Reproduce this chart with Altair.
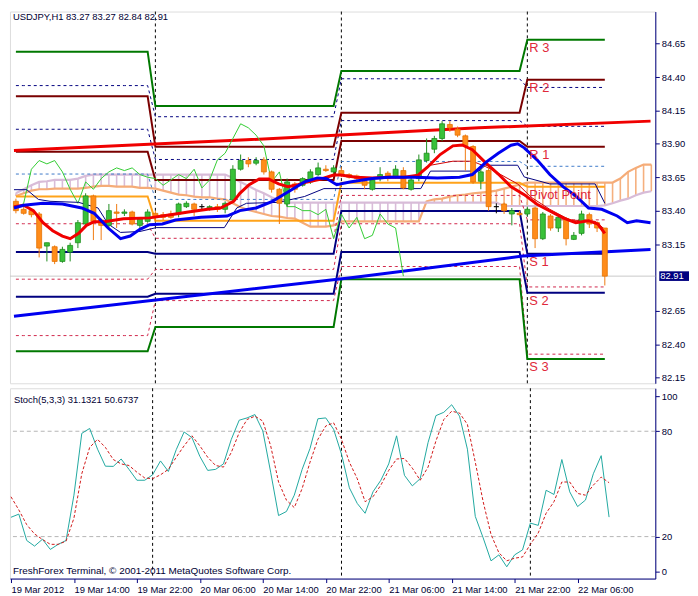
import json
import altair as alt
import pandas as pd

alt.data_transformers.disable_max_rows()

FONT = "Liberation Sans"
NAVY = "#000080"
TXT = "#000033"

# ---------------- candles (hourly bars, index 0 = 19 Mar 06:00) ----------------
OPEN = [83.47, 83.41, 83.40, 83.375, 83.135, 83.13, 83.02, 83.09, 83.16, 83.30,
        83.51, 83.33, 83.29, 83.39, 83.38, 83.39, 83.29, 83.32, 83.38, 83.37,
        83.375, 83.375, 83.43, 83.45, 83.43, 83.42, 83.43, 83.41, 83.48, 83.71,
        83.775, 83.755, 83.78, 83.69, 83.56, 83.45, 83.60, 83.59, 83.615, 83.67,
        83.71, 83.69, 83.70, 83.67, 83.66, 83.62, 83.56, 83.64, 83.68, 83.65,
        83.70, 83.56, 83.64, 83.775, 83.86, 83.94, 84.045, 84.01, 83.96, 83.88,
        83.62, 83.70, 83.43, 83.45, 83.375, 83.38, 83.375, 83.42, 83.19, 83.36,
        83.27, 83.34, 83.185, 83.23, 83.37, 83.31, 83.27]
HIGH = [83.49, 83.43, 83.41, 83.39, 83.16, 83.14, 83.13, 83.16, 83.33, 83.53,
        83.52, 83.34, 83.45, 83.45, 83.41, 83.40, 83.35, 83.41, 83.40, 83.39,
        83.40, 83.46, 83.47, 83.46, 83.45, 83.44, 83.45, 83.47, 83.74, 83.82,
        83.80, 83.80, 83.80, 83.70, 83.57, 83.64, 83.615, 83.65, 83.71, 83.76,
        83.74, 83.74, 83.725, 83.68, 83.67, 83.64, 83.645, 83.725, 83.695, 83.74,
        83.725, 83.645, 83.82, 83.94, 83.96, 84.07, 84.07, 84.03, 83.97, 83.89,
        83.725, 83.725, 83.455, 83.46, 83.42, 83.40, 83.43, 83.43, 83.39, 83.375,
        83.37, 83.35, 83.24, 83.40, 83.385, 83.32, 83.27]
LOW = [83.38, 83.37, 83.35, 83.05, 83.02, 83.00, 83.01, 83.02, 83.12, 83.29,
       83.18, 83.18, 83.27, 83.27, 83.36, 83.29, 83.27, 83.31, 83.32, 83.33,
       83.34, 83.35, 83.42, 83.36, 83.40, 83.40, 83.39, 83.38, 83.46, 83.70,
       83.725, 83.74, 83.67, 83.535, 83.30, 83.43, 83.535, 83.58, 83.60, 83.66,
       83.69, 83.67, 83.65, 83.64, 83.62, 83.56, 83.55, 83.62, 83.62, 83.64,
       83.56, 83.55, 83.62, 83.76, 83.83, 83.92, 83.99, 83.95, 83.70, 83.60,
       83.56, 83.40, 83.38, 83.375, 83.29, 83.36, 83.36, 83.12, 83.18, 83.25,
       83.24, 83.14, 83.18, 83.215, 83.27, 83.24, 82.84]
CLOSE = [83.40, 83.38, 83.37, 83.12, 83.16, 83.02, 83.11, 83.14, 83.31, 83.51,
         83.32, 83.29, 83.40, 83.38, 83.39, 83.30, 83.34, 83.39, 83.35, 83.35,
         83.35, 83.45, 83.455, 83.41, 83.43, 83.43, 83.41, 83.455, 83.71, 83.775,
         83.75, 83.775, 83.69, 83.56, 83.455, 83.615, 83.56, 83.64, 83.69, 83.72,
         83.70, 83.72, 83.67, 83.65, 83.64, 83.59, 83.63, 83.67, 83.64, 83.71,
         83.57, 83.63, 83.78, 83.83, 83.94, 84.05, 84.02, 83.965, 83.885, 83.615,
         83.69, 83.43, 83.43, 83.40, 83.40, 83.37, 83.41, 83.19, 83.375, 83.27,
         83.35, 83.19, 83.215, 83.375, 83.30, 83.27, 82.91]

# ---------------- daily pivot levels (19, 20, 21, 22 Mar) ----------------
DAY_START = [0, 18, 42, 66]
DAY_SEPARATORS = [18, 42, 66]
PIVOT_NAMES = ["R3", "R2", "R1", "P", "S1", "S2", "S3"]
R3 = [84.59, 84.184, 84.446, 84.679]
R2 = [84.256, 83.878, 84.133, 84.38]
R1 = [83.841, 83.63, 83.921, 83.878]
PP = [83.506, 83.324, 83.608, 83.579]
S1 = [83.091, 83.077, 83.397, 83.077]
S2 = [82.756, 82.778, 83.091, 82.785]
S3 = [82.348, 82.53, 82.887, 82.29]
PIVOT_TEXT = ["R 3", "R 2", "R 1", "Pivot Point", "S 1", "S 2", "S 3"]
PIVOT_COLORS = ["#007800", "#7A0000", "#7A0000", "#FFA31A", NAVY, NAVY, "#007800"]

MID_NAMES = ["A", "B", "C", "D", "E", "F"]
MID_A = [84.336, 84.103, 84.387, 84.322]
MID_B = [84.009, 83.783, 84.074, 84.031]
MID_C = [83.674, 83.484, 83.768, 83.732]
MID_D = [83.302, 83.193, 83.514, 83.331]
MID_E = [82.887, 82.96, 83.302, 82.829]
MID_F = [82.465, 82.727, 82.982, 82.326]
MID_COLORS = [NAVY, NAVY, "#3C78C8", "#D0254A", "#D0254A", "#D0254A"]

# ---------------- Ichimoku cloud spans (bars 0..82) ----------------
SPAN_B = [83.53, 83.56, 83.59, 83.615, 83.62, 83.63, 83.63, 83.63, 83.64, 83.66,
          83.67, 83.67, 83.67, 83.67, 83.67, 83.67, 83.67, 83.67, 83.67, 83.67,
          83.67, 83.67, 83.67, 83.67, 83.67, 83.67, 83.67, 83.67, 83.645, 83.615,
          83.585, 83.555, 83.53, 83.50, 83.48, 83.46, 83.46, 83.46, 83.46, 83.46,
          83.46, 83.46, 83.46, 83.46, 83.46, 83.46, 83.46, 83.46, 83.46, 83.46,
          83.46, 83.46, 83.46, 83.46, 83.46, 83.46, 83.46, 83.46, 83.46, 83.46,
          83.46, 83.46, 83.46, 83.435, 83.435, 83.435, 83.435, 83.435, 83.435, 83.435,
          83.435, 83.435, 83.435, 83.435, 83.435, 83.435, 83.44, 83.455, 83.475, 83.49,
          83.515, 83.535, 83.545]
SPAN_A = [83.51, 83.53, 83.55, 83.56, 83.56, 83.565, 83.565, 83.565, 83.565, 83.57,
          83.58, 83.585, 83.585, 83.58, 83.58, 83.58, 83.57, 83.57, 83.565, 83.55,
          83.535, 83.52, 83.515, 83.505, 83.50, 83.50, 83.49, 83.485, 83.455, 83.425,
          83.405, 83.39, 83.375, 83.36, 83.355, 83.345, 83.34, 83.31, 83.28, 83.28,
          83.28, 83.29, 83.32, 83.32, 83.32, 83.32, 83.32, 83.32, 83.32, 83.32,
          83.32, 83.32, 83.32, 83.47, 83.485, 83.49, 83.505, 83.515, 83.52, 83.53,
          83.535, 83.54, 83.55, 83.565, 83.58, 83.595, 83.61, 83.61, 83.61, 83.61,
          83.61, 83.61, 83.61, 83.61, 83.61, 83.61, 83.61, 83.61, 83.64, 83.69,
          83.72, 83.745, 83.745]

# ---------------- moving averages / other lines (bar, price knots) ----------------
RED_MA_BAR = [-0.25, 1, 2.25, 3.5, 4.75, 6, 7, 8.1, 9.1, 10.1, 11.4, 13.9, 17.25, 18.9, 20.6,
              22.25, 24.75, 26.4, 28.1, 28.9, 30.1, 31.4, 32.6, 33.9, 35.1, 36.4, 37.6, 39.4,
              41, 41.9, 43.9, 46, 48.1, 50.1, 51.9, 53.1, 54.75, 56.4, 57.6, 58.9, 60.6, 62.25,
              63.9, 65.6, 67.25, 68.9, 70.6, 72.25, 73.9, 75.1, 76]
RED_MA_VAL = [83.43, 83.44, 83.40, 83.31, 83.25, 83.21, 83.19, 83.23, 83.29, 83.317, 83.317,
              83.34, 83.346, 83.36, 83.375, 83.39, 83.41, 83.42, 83.47, 83.53, 83.594, 83.637,
              83.637, 83.60, 83.58, 83.594, 83.615, 83.637, 83.666, 83.666, 83.65, 83.645,
              83.65, 83.65, 83.666, 83.725, 83.82, 83.885, 83.892, 83.856, 83.76, 83.674,
              83.579, 83.52, 83.448, 83.397, 83.346, 83.31, 83.325, 83.30, 83.23]
BLUE_MA_BAR = [-0.25, 1, 3.5, 6, 8.5, 10.1, 11.9, 13.5, 14.75, 16, 17.25, 18.9, 20.6, 23.9,
               27.25, 28.9, 31, 33.1, 35.1, 37.25, 38.9, 40.1, 41.4, 43.1, 46, 48.1, 51.4,
               54.4, 57.25, 58.9, 60.6, 62.25, 63.9, 64.75, 65.6, 67.25, 68.9, 70.6, 72.25,
               73.9, 75.6, 77.6, 78.9, 80.1, 81.9]
BLUE_MA_VAL = [83.42, 83.44, 83.455, 83.45, 83.42, 83.38, 83.27, 83.19, 83.21, 83.26, 83.295,
               83.30, 83.33, 83.35, 83.36, 83.40, 83.42, 83.47, 83.54, 83.615, 83.645, 83.64,
               83.594, 83.615, 83.64, 83.65, 83.65, 83.645, 83.65, 83.67, 83.76, 83.83, 83.89,
               83.90, 83.87, 83.78, 83.67, 83.58, 83.51, 83.42, 83.41, 83.36, 83.31, 83.325,
               83.31]
SLOW_RED_BAR = [-0.25, 29.75, 59.75, 81.9]
SLOW_RED_VAL = [83.85, 83.93, 84.02, 84.07]
SLOW_BLUE_BAR = [-0.25, 43.5, 65.4, 81.9]
SLOW_BLUE_VAL = [82.61, 82.90, 83.06, 83.11]
TENKAN_BAR = [-0.25, 1.4, 2.9, 4.4, 8.1, 10.6, 11.9, 13.5, 16, 18.1, 26.9, 28.5, 29.75, 33.9,
              37.25, 39.75, 52.25, 53.5, 59.75, 60.6, 64.75, 65.6, 68.9, 74.75, 76]
TENKAN_VAL = [83.557, 83.557, 83.484, 83.47, 83.462, 83.42, 83.30, 83.237, 83.244, 83.273,
              83.273, 83.42, 83.455, 83.462, 83.506, 83.565, 83.565, 83.696, 83.696, 83.74,
              83.74, 83.652, 83.60, 83.60, 83.455]
THIN_RED_BAR = [51.9, 53.5, 56.4, 58.9, 60.6, 62.25, 64.75, 66.5, 68.9, 71.5, 74.75, 76]
THIN_RED_VAL = [83.68, 83.74, 83.77, 83.77, 83.73, 83.68, 83.60, 83.50, 83.41, 83.33, 83.32, 83.26]
CHIKOU_SHIFT = 26
LAST_PRICE = 82.91

# ---------------- stochastic (5,3,3) ----------------
STOCH_K = [31.0, 32.8, 17.8, 14.6, 18.5, 12.7, 15.6, 17.8, 43.6, 78.8,
           81.6, 69.8, 60.1, 60.0, 64.2, 58.3, 52.1, 52.1, 55.2, 63.1,
           57.1, 69.5, 79.6, 76.4, 65.7, 57.7, 58.3, 61.4, 75.4, 86.3,
           87.6, 89.5, 80.2, 56.7, 32.0, 34.3, 43.6, 58.3, 70.2, 87.1,
           87.6, 81.1, 67.0, 47.8, 38.9, 33.3, 45.5, 52.1, 61.4, 77.4,
           54.9, 48.9, 53.0, 73.6, 88.9, 90.8, 95.1, 88.6, 69.8, 31.5,
           19.3, 6.2, 9.6, 2.8, 9.6, 12.4, 27.7, 26.4, 46.4, 44.0,
           63.9, 45.5, 37.1, 40.8, 55.8, 66.1, 31.1]
STOCH_D = [42.7, 35.2, 26.8, 21.5, 18.4, 15.6, 15.6, 17.4, 30.5, 55.8,
           70.8, 75.4, 70.8, 63.9, 61.4, 60.5, 56.7, 53.4, 53.0, 55.2,
           58.3, 65.2, 71.7, 77.4, 71.7, 65.2, 60.5, 59.6, 68.0, 79.2,
           86.7, 88.6, 85.8, 71.7, 51.1, 40.8, 36.5, 47.4, 62.4, 75.4,
           83.0, 84.8, 75.4, 62.4, 53.0, 39.9, 42.7, 49.3, 57.7, 64.2,
           64.5, 59.0, 52.1, 59.6, 74.5, 86.7, 91.4, 90.4, 83.9, 62.4,
           39.9, 21.2, 10.8, 6.2, 7.7, 8.4, 15.6, 22.1, 33.3, 39.9,
           51.1, 51.1, 44.6, 43.6, 49.3, 53.9, 50.7]
STOCH_LEVELS = [20, 80]

TICK_BARS = [0, 8, 16, 24, 32, 40, 48, 56, 64, 72]
TICK_LABELS = ["19 Mar 2012", "19 Mar 14:00", "19 Mar 22:00", "20 Mar 06:00", "20 Mar 14:00",
               "20 Mar 22:00", "21 Mar 06:00", "21 Mar 14:00", "21 Mar 22:00", "22 Mar 06:00"]
PRICE_TICKS = [82.15, 82.40, 82.65, 83.15, 83.40, 83.65, 83.90, 84.15, 84.40, 84.65]
STOCH_TICKS = [0, 20, 80, 100]

TITLE = "USDJPY,H1  83.27 83.27 82.84 82.91"
STOCH_TITLE = "Stoch(5,3,3) 31.1321 50.6737"
COPYRIGHT = "FreshForex Terminal, \u00a9 2001-2011 MetaQuotes Software Corp."

# ---------------- layout ----------------
W, H1, H2 = 651, 375, 192
XDOM = [-0.125, 81.875]
YDOM = [82.108, 84.89]
SDOM = [-3.9, 104.5]

NBARS = len(CLOSE)


def day_of(i):
    return sum(1 for s in DAY_START if i >= s) - 1


yaxis_main = alt.Axis(orient="right", values=PRICE_TICKS, format=".2f", title=None, grid=False,
                      tickSize=4, labelPadding=2, domainColor=NAVY, tickColor=NAVY,
                      labelColor=TXT, labelFont=FONT, labelFontSize=9.5, labelOverlap=False)
yaxis_stoch = alt.Axis(orient="right", values=STOCH_TICKS, format="d", title=None, grid=False,
                       tickSize=4, labelPadding=2, domainColor=NAVY, tickColor=NAVY,
                       labelColor=TXT, labelFont=FONT, labelFontSize=9.5, labelOverlap=False)
label_expr = json.dumps(TICK_LABELS) + "[round(datum.value / 8)]"
xaxis_stoch = alt.Axis(values=TICK_BARS, labelExpr=label_expr, title=None, grid=False,
                       orient="bottom", tickSize=4, labelAlign="left", labelPadding=2,
                       domainColor=NAVY, tickColor=NAVY, labelColor=TXT, labelFont=FONT,
                       labelFontSize=9.5, labelOverlap=False, labelFlush=False)

xscale = alt.Scale(domain=XDOM, nice=False, zero=False)
yscale = alt.Scale(domain=YDOM, nice=False, zero=False)
sscale = alt.Scale(domain=SDOM, nice=False, zero=False)


def XM(f="bar"):
    return alt.X(f"{f}:Q", scale=xscale, axis=None)


def YM(f):
    return alt.Y(f"{f}:Q", scale=yscale, axis=yaxis_main)


def XS(f="bar"):
    return alt.X(f"{f}:Q", scale=xscale, axis=xaxis_stoch)


def YS(f):
    return alt.Y(f"{f}:Q", scale=sscale, axis=yaxis_stoch)


# ---------------- data frames ----------------
candles = pd.DataFrame({"bar": list(range(NBARS)), "o": OPEN, "h": HIGH, "l": LOW, "c": CLOSE})
candles["dir"] = ["up" if c > o else ("down" if c < o else "doji") for o, c in zip(OPEN, CLOSE)]

piv_vals = [R3, R2, R1, PP, S1, S2, S3]
piv_rows = []
for name, vals in zip(PIVOT_NAMES, piv_vals):
    for i in range(NBARS):
        piv_rows.append({"name": name, "bar": i, "value": vals[day_of(i)]})
pivots = pd.DataFrame(piv_rows)

mid_vals = [MID_A, MID_B, MID_C, MID_D, MID_E, MID_F]
mid_rows = []
for name, vals in zip(MID_NAMES, mid_vals):
    for i in range(NBARS):
        mid_rows.append({"name": name, "bar": i, "value": vals[day_of(i)]})
mids = pd.DataFrame(mid_rows)

cloud = pd.DataFrame({"bar": list(range(len(SPAN_A))), "a": SPAN_A, "b": SPAN_B})
cloud["top"] = ["A" if a > b else "B" for a, b in zip(SPAN_A, SPAN_B)]

labels = pd.DataFrame({"name": PIVOT_NAMES, "text": PIVOT_TEXT,
                       "value": [v[-1] for v in piv_vals], "bar": [DAY_START[-1]] * 7})

chikou = pd.DataFrame({"bar": list(range(NBARS - CHIKOU_SHIFT)),
                       "value": CLOSE[CHIKOU_SHIFT:]})


def knots(bars, vals):
    return pd.DataFrame({"bar": bars, "value": vals})


seps = pd.DataFrame({"bar": DAY_SEPARATORS})
last = pd.DataFrame({"value": [LAST_PRICE], "hi": [LAST_PRICE + 0.036], "lo": [LAST_PRICE - 0.036],
                     "lbl": [f"{LAST_PRICE:.2f}"]})

# ---------------- main panel ----------------
price_line = alt.Chart(last).mark_rule(color="#C8C8C8", strokeWidth=1).encode(y=YM("value"))
sep_main = alt.Chart(seps).mark_rule(color="#000000", strokeDash=[3, 3], strokeWidth=1).encode(x=XM())

hatch = alt.Chart(cloud).mark_rule(strokeWidth=1.6, clip=True).encode(
    x=XM(), y=YM("a"), y2="b:Q",
    color=alt.Color("top:N", scale=alt.Scale(domain=["A", "B"], range=["#F5B07E", "#D8BCD8"]), legend=None))
span_a = alt.Chart(cloud).mark_line(color="#F5AC78", strokeWidth=2.2, clip=True).encode(x=XM(), y=YM("a"))
span_b = alt.Chart(cloud).mark_line(color="#D8BCD8", strokeWidth=2.2, clip=True).encode(x=XM(), y=YM("b"))

mid_lines = alt.Chart(mids).mark_line(strokeDash=[3, 3], strokeWidth=1).encode(
    x=XM(), y=YM("value"), detail="name:N",
    color=alt.Color("name:N", scale=alt.Scale(domain=MID_NAMES, range=MID_COLORS), legend=None))
piv_lines = alt.Chart(pivots).mark_line(strokeWidth=2).encode(
    x=XM(), y=YM("value"), detail="name:N",
    color=alt.Color("name:N", scale=alt.Scale(domain=PIVOT_NAMES, range=PIVOT_COLORS), legend=None))

slow_red = alt.Chart(knots(SLOW_RED_BAR, SLOW_RED_VAL)).mark_line(
    color="#F00000", strokeWidth=3, clip=True).encode(x=XM(), y=YM("value"))
slow_blue = alt.Chart(knots(SLOW_BLUE_BAR, SLOW_BLUE_VAL)).mark_line(
    color="#0000F0", strokeWidth=3, clip=True).encode(x=XM(), y=YM("value"))
chikou_line = alt.Chart(chikou).mark_line(color="#33CC33", strokeWidth=1).encode(x=XM(), y=YM("value"))
tenkan_line = alt.Chart(knots(TENKAN_BAR, TENKAN_VAL)).mark_line(
    color=NAVY, strokeWidth=1, clip=True).encode(x=XM(), y=YM("value"))
thin_red = alt.Chart(knots(THIN_RED_BAR, THIN_RED_VAL)).mark_line(
    color="#D00000", strokeWidth=1, clip=True).encode(x=XM(), y=YM("value"))

dir_dom = ["up", "down", "doji"]
wicks = alt.Chart(candles).mark_rule(strokeWidth=1).encode(
    x=XM(), y=YM("l"), y2="h:Q",
    color=alt.Color("dir:N", scale=alt.Scale(domain=dir_dom, range=["#1E8C1E", "#F07A10", "#000000"]), legend=None))
bodies = alt.Chart(candles).mark_bar(size=5, strokeWidth=0.8).encode(
    x=XM(), y=YM("o"), y2="c:Q",
    color=alt.Color("dir:N", scale=alt.Scale(domain=dir_dom, range=["#39C139", "#FF8C1A", "#000000"]), legend=None),
    stroke=alt.Stroke("dir:N", scale=alt.Scale(domain=dir_dom, range=["#1E8C1E", "#E57300", "#000000"]), legend=None))

red_ma = alt.Chart(knots(RED_MA_BAR, RED_MA_VAL)).mark_line(
    color="#F00000", strokeWidth=3, clip=True).encode(x=XM(), y=YM("value"))
blue_ma = alt.Chart(knots(BLUE_MA_BAR, BLUE_MA_VAL)).mark_line(
    color="#0000F0", strokeWidth=3, clip=True).encode(x=XM(), y=YM("value"))

piv_labels = alt.Chart(labels).mark_text(align="left", baseline="top", dx=2, dy=2, fontSize=13,
                                         font=FONT, color="#E0283A").encode(
    x=XM(), y=YM("value"), text="text:N")

last_box = alt.Chart(last).mark_rect(color=NAVY, clip=False).encode(
    x=alt.value(W + 4), x2=alt.value(W + 34), y=YM("hi"), y2="lo:Q")
last_txt = alt.Chart(last).mark_text(align="left", baseline="middle", color="#FFFFFF", fontSize=9.5,
                                     font=FONT, clip=False).encode(
    x=alt.value(W + 5), y=YM("value"), text="lbl:N")

title_txt = alt.Chart(pd.DataFrame({"t": [TITLE]})).mark_text(
    align="left", baseline="middle", fontSize=9.5, font=FONT, color=TXT).encode(
    x=alt.value(3), y=alt.value(6), text="t:N")

main = alt.layer(price_line, sep_main, hatch, span_a, span_b, mid_lines, piv_lines, slow_red,
                 slow_blue, chikou_line, tenkan_line, thin_red, wicks, bodies, red_ma, blue_ma,
                 piv_labels, last_box, last_txt, title_txt).resolve_scale(
    color="independent", stroke="independent").properties(width=W, height=H1)

# ---------------- stochastic panel ----------------
stoch_df = pd.DataFrame({"bar": list(range(NBARS)), "k": STOCH_K, "d": STOCH_D})
lvl = alt.Chart(pd.DataFrame({"v": STOCH_LEVELS})).mark_rule(
    color="#B4B4B4", strokeDash=[4, 3], strokeWidth=1).encode(y=YS("v"))
sep_st = alt.Chart(seps).mark_rule(color="#000000", strokeDash=[3, 3], strokeWidth=1).encode(x=XS())
k_line = alt.Chart(stoch_df).mark_line(color="#20A8A0", strokeWidth=1).encode(x=XS(), y=YS("k"))
d_line = alt.Chart(stoch_df).mark_line(color="#D01818", strokeWidth=1, strokeDash=[3, 2]).encode(
    x=XS(), y=YS("d"))
st_title = alt.Chart(pd.DataFrame({"t": [STOCH_TITLE]})).mark_text(
    align="left", baseline="middle", fontSize=9.5, font=FONT, color=TXT).encode(
    x=alt.value(4), y=alt.value(12), text="t:N")
copy_txt = alt.Chart(pd.DataFrame({"t": [COPYRIGHT]})).mark_text(
    align="left", baseline="middle", fontSize=10, font=FONT, color=TXT).encode(
    x=alt.value(3), y=alt.value(H2 - 8), text="t:N")

stoch = alt.layer(lvl, sep_st, k_line, d_line, st_title, copy_txt).properties(width=W, height=H2)

chart = alt.vconcat(main, stoch, spacing=3, padding=0).configure_view(
    stroke=NAVY, strokeWidth=1).configure(background="#FFFFFF")

chart.save("out.html", embed_options={"renderer": "svg", "actions": False})
